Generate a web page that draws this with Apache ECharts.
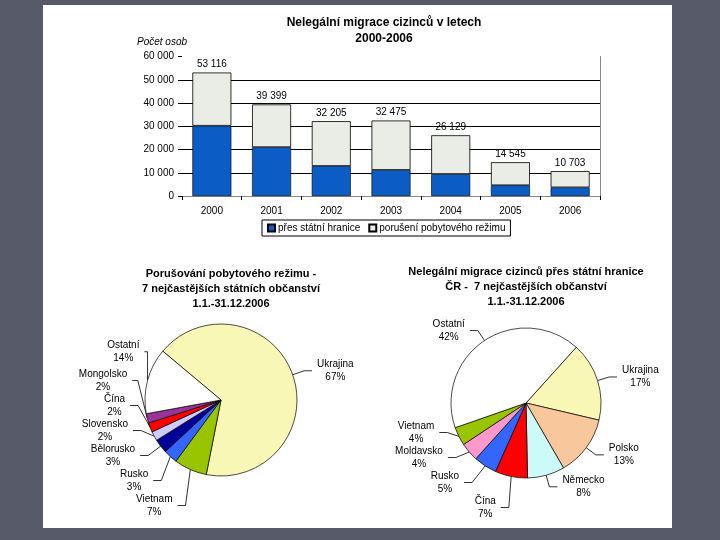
<!DOCTYPE html>
<html>
<head>
<meta charset="utf-8">
<script src="https://cdn.jsdelivr.net/npm/echarts@6/dist/echarts.min.js"></script>
<style>html,body{margin:0;padding:0;background:#575a69;}#c{width:720px;height:540px;}</style>
</head>
<body>
<div id="c"></div>
<script>
var years = ['2000','2001','2002','2003','2004','2005','2006'];
var totals = [53116, 39399, 32205, 32475, 26129, 14545, 10703];
var border = [30200, 21000, 12900, 11200, 9400, 4600, 3700];
var stay = [22916, 18399, 19305, 21275, 16729, 9945, 7003];
var seriesNames = ['přes státní hranice', 'porušení pobytového režimu'];
var yTicks = [0, 10000, 20000, 30000, 40000, 50000, 60000];

var leftNames = ['Ukrajina','Vietnam','Rusko','Bělorusko','Slovensko','Čína','Mongolsko','Ostatní'];
var leftValues = [67, 7, 3, 3, 2, 2, 2, 14];
var leftColors = ['#f9f7b6','#99c400','#3366ff','#000099','#ccccff','#ff0000','#993399','#ffffff'];

var rightNames = ['Ukrajina','Polsko','Německo','Čína','Rusko','Moldavsko','Vietnam','Ostatní'];
var rightValues = [17, 13, 8, 7, 5, 4, 4, 42];
var rightColors = ['#f9f7b6','#f8c89c','#ccfaf8','#ff0000','#3366ff','#ff99cc','#99c400','#ffffff'];

var FONT = '"Liberation Sans", Arial, sans-serif';
function fmt(v){ return String(v).replace(/\B(?=(\d{3})+(?!\d))/g, ' '); }

function pieData(names, values, colors){
  return names.map(function(n,i){ return {name:n, value:values[i], itemStyle:{color:colors[i]}}; });
}
function pieLabel(lh){
  return {
    show:true, position:'outside', fontFamily:FONT, fontSize:10, color:'#000',
    formatter:function(p){ return '{n|' + p.name + '}\n{n|' + Math.round(p.percent) + '%}'; },
    rich:{ n:{ align:'center', fontFamily:FONT, fontSize:10, lineHeight:lh, color:'#000' } }
  };
}

var chart = echarts.init(document.getElementById('c'));
chart.setOption({
  animation:false,
  backgroundColor:'#575a69',
  graphic:[{type:'rect', z:-10, shape:{x:43, y:5, width:629, height:523}, style:{fill:'#ffffff'}}],
  title:[
    {text:'Nelegální migrace cizinců v letech\n2000-2006', left:379, top:10, textAlign:'center',
     textStyle:{fontFamily:FONT, fontSize:12, fontWeight:'bold', color:'#000', lineHeight:16}},
    {text:'Počet osob', left:132, top:32,
     textStyle:{fontFamily:FONT, fontSize:10, fontStyle:'italic', fontWeight:'normal', color:'#000'}},
    {text:'Porušování pobytového režimu -\n7 nejčastějších státních občanství\n1.1.-31.12.2006', left:226, top:261, textAlign:'center',
     textStyle:{fontFamily:FONT, fontSize:11, fontWeight:'bold', color:'#000', lineHeight:15}},
    {text:'Nelegální migrace cizinců přes státní hranice\nČR -  7 nejčastějších občanství\n1.1.-31.12.2006', left:521, top:259, textAlign:'center',
     textStyle:{fontFamily:FONT, fontSize:11, fontWeight:'bold', color:'#000', lineHeight:15}}
  ],
  legend:{
    data:seriesNames, left:262, top:220, orient:'horizontal',
    borderColor:'#000', borderWidth:1, padding:[3,5,3,5], itemGap:8,
    itemWidth:7, itemHeight:7, icon:'rect',
    textStyle:{fontFamily:FONT, fontSize:10, color:'#000', padding:[0,0,0,-2]}
  },
  grid:{left:182, right:120, top:56.5, bottom:344, containLabel:false},
  xAxis:[
    {type:'category', data:years, axisLine:{show:false},
     axisTick:{show:true, length:4, lineStyle:{color:'#000'}},
     axisLabel:{fontFamily:FONT, fontSize:10, color:'#000', margin:10}},
    {type:'category', data:years, position:'top', axisLine:{show:true, lineStyle:{color:'#888'}},
     axisTick:{show:false}, axisLabel:{show:false}}
  ],
  yAxis:[
    {type:'value', min:0, max:60000, interval:10000,
     axisLine:{show:false}, axisTick:{show:true, length:4, lineStyle:{color:'#000'}},
     splitLine:{show:true, lineStyle:{color:['rgba(0,0,0,0)','#000','#000','#000','#000','#000','rgba(0,0,0,0)'], width:1}},
     axisLabel:{fontFamily:FONT, fontSize:10, color:'#000', margin:8, formatter:function(v){return fmt(v);}}},
    {type:'value', min:0, max:60000, interval:10000, position:'right',
     axisLine:{show:true, lineStyle:{color:'#888'}}, axisTick:{show:false}, axisLabel:{show:false}, splitLine:{show:false}}
  ],
  series:[
    {name:seriesNames[0], type:'bar', stack:'a', data:border, barWidth:39,
     itemStyle:{color:'#0b5cc4', borderColor:'#000', borderWidth:0.6}},
    {name:seriesNames[1], type:'bar', stack:'a', data:stay, barWidth:39,
     itemStyle:{color:'#e9ede6', borderColor:'#000', borderWidth:0.8},
     label:{show:true, position:'top', distance:3, fontFamily:FONT, fontSize:10, color:'#000',
       formatter:function(p){ return fmt(totals[p.dataIndex]); }}},
    {type:'pie', left:60, top:322, width:330, height:196, center:[161,78], radius:76, startAngle:140, clockwise:true,
     avoidLabelOverlap:true, data:pieData(leftNames, leftValues, leftColors),
     itemStyle:{borderColor:'#000', borderWidth:0.7},
     label:pieLabel(13), labelLine:{show:true, length:12, length2:8, lineStyle:{color:'#000', width:0.8}},
     emphasis:{disabled:true}},
    {type:'pie', left:380, top:318, width:300, height:202, center:[146,85], radius:75, startAngle:48, clockwise:true,
     avoidLabelOverlap:true, data:pieData(rightNames, rightValues, rightColors),
     itemStyle:{borderColor:'#000', borderWidth:0.7},
     label:pieLabel(13), labelLine:{show:true, length:12, length2:8, lineStyle:{color:'#000', width:0.8}},
     emphasis:{disabled:true}}
  ]
});
</script>
</body>
</html>
